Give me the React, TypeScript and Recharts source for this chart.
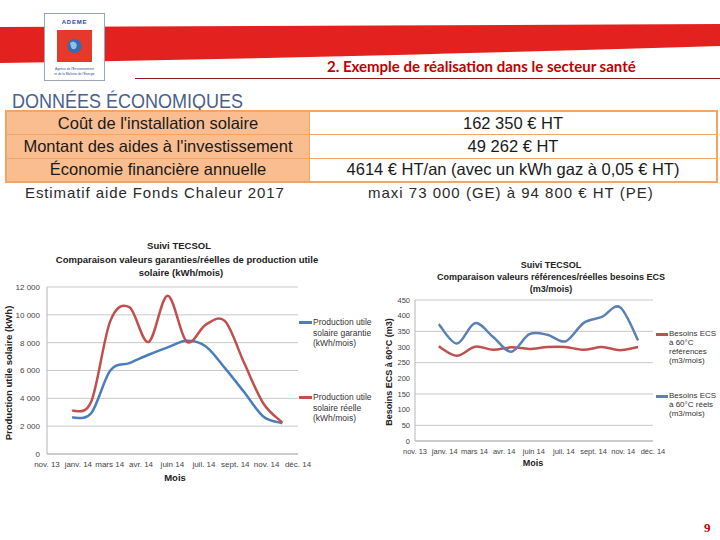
import React from 'react';
import { LineChart, Line, XAxis, YAxis, CartesianGrid } from 'recharts';

// ---------- data ----------
const monthIndex = [0, 1, 2, 3, 4, 5, 6, 7, 8, 9, 10, 11]; // janv. 14 .. déc. 14
const prodGarantie = [2620, 2930, 6000, 6530, 7130, 7660, 8140, 7730, 6170, 4450, 2700, 2210];
const prodReelle = [3100, 3750, 9550, 10550, 8050, 11380, 8070, 9300, 9550, 6550, 3650, 2260];
const ecsReference = [302, 272, 301, 291, 299, 294, 300, 300, 291, 300, 290, 300];
const ecsReel = [373, 311, 376, 332, 285, 341, 339, 318, 377, 396, 427, 321];

const xTickValues = [-1.31, 0.33, 1.97, 3.61, 5.25, 6.9, 8.54, 10.18, 11.82];
const xTickLabels = ['nov. 13', 'janv. 14', 'mars 14', 'avr. 14', 'juin 14', 'juil. 14', 'sept. 14', 'nov. 14', 'déc. 14'];
const prodTicks = [0, 2000, 4000, 6000, 8000, 10000, 12000];
const ecsTicks = [0, 50, 100, 150, 200, 250, 300, 350, 400, 450];

const tableRows = [
  ["Coût de l'installation solaire", '162 350 € HT'],
  ["Montant des aides à l'investissement", '49 262 € HT'],
  ['Économie financière annuelle', '4614 € HT/an (avec un kWh gaz à 0,05 € HT)'],
];

const prodData = monthIndex.map((m, i) => ({ m, garantie: prodGarantie[i], reelle: prodReelle[i] }));
const ecsData = monthIndex.map((m, i) => ({ m, ref: ecsReference[i], reel: ecsReel[i] }));

// Excel-like smoothed line (Catmull-Rom through the points)
const excelCurve = (context: any) => {
  let pts: number[][] = [];
  return {
    areaStart() {},
    areaEnd() {},
    lineStart() {
      pts = [];
    },
    lineEnd() {
      const n = pts.length;
      if (!n) return;
      context.moveTo(pts[0][0], pts[0][1]);
      for (let i = 0; i < n - 1; i++) {
        const p0 = pts[Math.max(i - 1, 0)];
        const p1 = pts[i];
        const p2 = pts[i + 1];
        const p3 = pts[Math.min(i + 2, n - 1)];
        context.bezierCurveTo(
          p1[0] + (p2[0] - p0[0]) / 6,
          p1[1] + (p2[1] - p0[1]) / 6,
          p2[0] - (p3[0] - p1[0]) / 6,
          p2[1] - (p3[1] - p1[1]) / 6,
          p2[0],
          p2[1]
        );
      }
    },
    point(x: number, y: number) {
      pts.push([+x, +y]);
    },
  };
};

const FF = '"Liberation Sans", Arial, sans-serif';
const RED = '#c0504d';
const BLUE = '#4a7ebb';
const fmtThousands = (v: number) => String(v).replace(/\B(?=(\d{3})+(?!\d))/g, ' ');
const xLabel = (v: number) => xTickLabels[xTickValues.indexOf(v)] ?? '';

const abs = (left: number, top: number, extra: React.CSSProperties = {}): React.CSSProperties => ({
  position: 'absolute',
  left,
  top,
  whiteSpace: 'nowrap',
  ...extra,
});

const Centered = ({ x, y, size, bold, children, color = '#222' }: any) => (
  <div
    style={abs(x, y, {
      transform: 'translate(-50%, -50%)',
      fontFamily: FF,
      fontSize: size,
      fontWeight: bold ? 'bold' : 'normal',
      color,
      lineHeight: 1,
    })}
  >
    {children}
  </div>
);

const LegendItem = ({ x, y, color, lines, size, gap, sample }: any) => (
  <div>
    <div style={abs(x, y - 1, { width: sample, height: 2.5, background: color })} />
    {lines.map((t: string, i: number) => (
      <div
        key={i}
        style={abs(x + sample + 1, y + i * gap, {
          transform: 'translateY(-50%)',
          fontFamily: FF,
          fontSize: size,
          color: '#333',
          lineHeight: 1,
        })}
      >
        {t}
      </div>
    ))}
  </div>
);

export default function App() {
  return (
    <div style={{ position: 'absolute', left: 0, top: 0, width: 720, height: 540, background: '#fff', overflow: 'hidden' }}>
      {/* header band */}
      <svg width={720} height={90} style={{ position: 'absolute', left: 0, top: 0 }}>
        <path d="M0,27 L720,24 L720,46 C520,52 260,59 0,63 Z" fill="#e3211f" />
        <line x1={135} y1={78.5} x2={720} y2={78.5} stroke="#8b1a1a" strokeWidth={1} />
        {/* logo */}
        <rect x={44.5} y={13.5} width={60} height={67} fill="#fff" stroke="#9aa6b8" strokeWidth={1} />
        <text x={74.5} y={24} textAnchor="middle" fontFamily={FF} fontWeight="bold" fontSize={6} fill="#2b4c96" letterSpacing={0.8}>
          ADEME
        </text>
        <rect x={57} y={30} width={35} height={32} fill="#e4392b" />
        <circle cx={74.5} cy={46} r={7} fill="#2f6db5" />
        <path d="M70,43 q3,-3 6,0 q2,3 -1,6 q-3,1 -4,-2 z" fill="#8fc0e8" />
        <text x={74.5} y={70} textAnchor="middle" fontFamily={FF} fontSize={3.2} fill="#2b4c96">
          Agence de l'Environnement
        </text>
        <text x={74.5} y={75} textAnchor="middle" fontFamily={FF} fontSize={3.2} fill="#2b4c96">
          et de la Maîtrise de l'Énergie
        </text>
      </svg>

      <div style={abs(327, 59, { fontFamily: 'Lato, "Open Sans", sans-serif', fontWeight: 'bold', fontSize: 15, color: '#c00000', lineHeight: 1 })}>
        2. Exemple de réalisation dans le secteur santé
      </div>

      <div style={abs(12, 91, { fontFamily: FF, fontSize: 18, color: '#4a5f8c', lineHeight: 1, transform: 'scaleY(1.1)', transformOrigin: 'left top' })}>
        DONNÉES ÉCONOMIQUES
      </div>

      {/* table */}
      <div style={abs(5, 110, { width: 713, border: '2px solid #f3a467', boxSizing: 'border-box' })}>
        {tableRows.map((r, i) => (
          <div key={i} style={{ display: 'flex', height: 22.3, borderTop: i ? '1.5px solid #f3a467' : 'none' }}>
            <div
              style={{
                width: 302,
                background: '#f9bd90',
                borderRight: '1.5px solid #f3a467',
                display: 'flex',
                alignItems: 'center',
                justifyContent: 'center',
                fontFamily: FF,
                fontSize: 16.5,
                color: '#1a1a1a',
              }}
            >
              {r[0]}
            </div>
            <div
              style={{
                flex: 1,
                background: '#fff',
                display: 'flex',
                alignItems: 'center',
                justifyContent: 'center',
                fontFamily: FF,
                fontSize: 16.5,
                color: '#1a1a1a',
              }}
            >
              {r[1]}
            </div>
          </div>
        ))}
      </div>

      <div style={abs(25, 185, { fontFamily: FF, fontSize: 15, letterSpacing: 0.9, color: '#2a2a2a', lineHeight: 1 })}>
        Estimatif aide Fonds Chaleur 2017
      </div>
      <div style={abs(368, 185, { fontFamily: FF, fontSize: 15, letterSpacing: 1, color: '#2a2a2a', lineHeight: 1 })}>
        maxi 73 000 (GE) à 94 800 € HT (PE)
      </div>

      {/* left chart */}
      <Centered x={179} y={246} size={9.5} bold>Suivi TECSOL</Centered>
      <Centered x={187} y={260} size={9.5} bold>Comparaison valeurs garanties/réelles de production utile</Centered>
      <Centered x={181} y={273} size={9.5} bold>solaire (kWh/mois)</Centered>
      <div style={{ position: 'absolute', left: 0, top: 230 }}>
        <LineChart width={345} height={260} data={prodData} margin={{ top: 57, right: 47, bottom: 16, left: 0 }}>
          <CartesianGrid vertical={false} stroke="#c9c9c9" />
          <XAxis
            type="number"
            dataKey="m"
            domain={[-1.31, 11.82]}
            ticks={xTickValues}
            tickFormatter={xLabel}
            interval={0}
            allowDataOverflow
            tickLine={false}
            tickSize={5}
            tickMargin={2}
            height={20}
            axisLine={{ stroke: '#b5b5b5' }}
            tick={{ fontSize: 8, fill: '#444', fontFamily: FF }}
          />
          <YAxis
            domain={[0, 12000]}
            ticks={prodTicks}
            tickFormatter={fmtThousands}
            width={47}
            tickLine={false}
            tickSize={5}
            tickMargin={2}
            axisLine={{ stroke: '#b5b5b5' }}
            tick={{ fontSize: 8, fill: '#444', fontFamily: FF }}
          />
          <Line dataKey="garantie" type={excelCurve as any} stroke={BLUE} strokeWidth={2.5} dot={false} isAnimationActive={false} />
          <Line dataKey="reelle" type={excelCurve as any} stroke={RED} strokeWidth={2.5} dot={false} isAnimationActive={false} />
        </LineChart>
      </div>
      <Centered x={175} y={478} size={9.5} bold>Mois</Centered>
      <div style={abs(9, 373, { transform: 'translate(-50%, -50%) rotate(-90deg)', fontFamily: FF, fontSize: 9.5, fontWeight: 'bold', color: '#222', lineHeight: 1 })}>
        Production utile solaire (kWh)
      </div>
      <LegendItem x={299} y={322} color={BLUE} sample={13} size={8.5} gap={10.5} lines={['Production utile', 'solaire garantie', '(kWh/mois)']} />
      <LegendItem x={299} y={397} color={RED} sample={13} size={8.5} gap={10.5} lines={['Production utile', 'solaire réelle', '(kWh/mois)']} />

      {/* right chart */}
      <Centered x={551} y={265} size={9} bold>Suivi TECSOL</Centered>
      <Centered x={551} y={277} size={9} bold>Comparaison valeurs références/réelles besoins ECS</Centered>
      <Centered x={551} y={289} size={9} bold>(m3/mois)</Centered>
      <div style={{ position: 'absolute', left: 370, top: 250 }}>
        <LineChart width={350} height={230} data={ecsData} margin={{ top: 50, right: 67, bottom: 19, left: 0 }}>
          <CartesianGrid vertical={false} stroke="#c9c9c9" />
          <XAxis
            type="number"
            dataKey="m"
            domain={[-1.31, 11.82]}
            ticks={xTickValues}
            tickFormatter={xLabel}
            interval={0}
            allowDataOverflow
            tickLine={false}
            tickSize={6}
            tickMargin={2}
            height={20}
            axisLine={{ stroke: '#b5b5b5' }}
            tick={{ fontSize: 7.5, fill: '#444', fontFamily: FF }}
          />
          <YAxis
            domain={[0, 450]}
            ticks={ecsTicks}
            width={45}
            tickLine={false}
            tickSize={3}
            tickMargin={2}
            axisLine={{ stroke: '#b5b5b5' }}
            tick={{ fontSize: 7.5, fill: '#444', fontFamily: FF }}
          />
          <Line dataKey="ref" type={excelCurve as any} stroke={RED} strokeWidth={2.5} dot={false} isAnimationActive={false} />
          <Line dataKey="reel" type={excelCurve as any} stroke="#5a80b4" strokeWidth={2.5} dot={false} isAnimationActive={false} />
        </LineChart>
      </div>
      <Centered x={533} y={463} size={9} bold>Mois</Centered>
      <div style={abs(389, 372, { transform: 'translate(-50%, -50%) rotate(-90deg)', fontFamily: FF, fontSize: 9, fontWeight: 'bold', color: '#222', lineHeight: 1 })}>
        Besoins ECS à 60°C (m3)
      </div>
      <LegendItem x={656} y={334} color={RED} sample={12} size={8} gap={9} lines={['Besoins ECS', 'à 60°C', 'références', '(m3/mois)']} />
      <LegendItem x={656} y={396} color="#5a80b4" sample={12} size={8} gap={9} lines={['Besoins ECS', 'à 60°C réels', '(m3/mois)']} />

      <div style={abs(704, 521, { fontFamily: '"Liberation Serif", serif', fontWeight: 'bold', fontSize: 13, color: '#c00000', lineHeight: 1 })}>9</div>
    </div>
  );
}
